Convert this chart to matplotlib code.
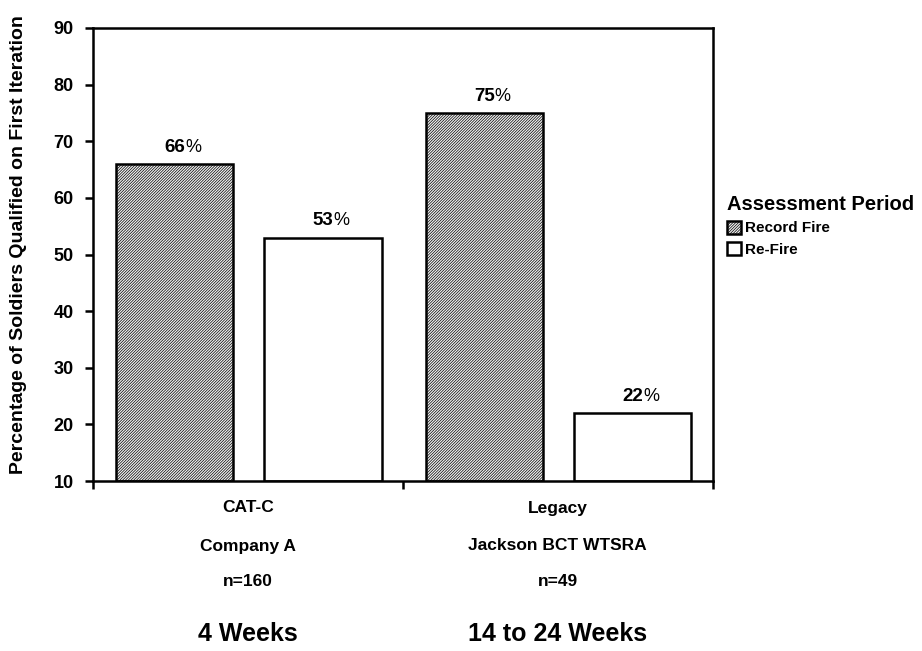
import matplotlib
matplotlib.use("Agg")
import matplotlib.pyplot as plt
import matplotlib.transforms as mtransforms
import numpy as np

plt.rcParams['font.family'] = ['Liberation Sans', 'DejaVu Sans']
plt.rcParams['hatch.linewidth'] = 0.5

groups = ['CAT-C', 'Legacy']
group_lines = [['CAT-C', 'Company A', 'n=160'], ['Legacy', 'Jackson BCT WTSRA', 'n=49']]
durations = ['4 Weeks', '14 to 24 Weeks']
series = ['Record Fire', 'Re-Fire']
record_fire = [66, 75]
re_fire = [53, 22]
yticks = [10, 20, 30, 40, 50, 60, 70, 80, 90]

fig = plt.figure(figsize=(9.22, 6.51), dpi=100)
ax = fig.add_axes([0.101, 0.261, 0.672, 0.696])

x = np.arange(len(groups))
w = 0.378
b1 = ax.bar(x - 0.237, np.array(record_fire) - 10, w, bottom=10, facecolor='#f0f0f0',
            edgecolor='black', hatch='////////////', linewidth=1.8, label=series[0])
b2 = ax.bar(x + 0.242, np.array(re_fire) - 10, w, bottom=10, facecolor='white',
            edgecolor='black', linewidth=1.8, label=series[1])

for bars, vals in [(b1, record_fire), (b2, re_fire)]:
    for r, v in zip(bars, vals):
        t = ax.annotate(str(v), (r.get_x() + r.get_width() / 2, v), xytext=(0, 6),
                        textcoords='offset points', ha='center', va='bottom',
                        fontsize=13.5, fontweight='bold')
        ax.annotate('%', xy=(1, 0), xycoords=t, ha='left', va='bottom', fontsize=13)

ax.set_xlim(-0.5, 1.5)
ax.set_ylim(10, 90)
ax.set_yticks(yticks)
ax.set_xticks([-0.5, 0.5, 1.5])
ax.set_xticklabels([])
ax.tick_params(axis='both', direction='out', width=1.8, length=6, labelsize=13, pad=8)
for lab in ax.get_yticklabels():
    lab.set_fontweight('bold')
for s in ax.spines.values():
    s.set_linewidth(1.8)
ax.set_ylabel('Percentage of Soldiers Qualified on First Iteration', fontsize=14,
              fontweight='bold', va='center')
ax.yaxis.set_label_coords(19 / 922, 1 - 245 / 651, transform=fig.transFigure)

# category labels under the axis
below = mtransforms.blended_transform_factory(ax.transData, fig.transFigure)
line_y = [508, 546, 581]
for gx, lines, dur in zip(x, group_lines, durations):
    for ly, txt in zip(line_y, lines):
        ax.text(gx, 1 - ly / 651, txt, ha='center', va='center',
                fontsize=12.5, fontweight='bold', transform=below)
    ax.text(gx, 1 - 634 / 651, dur, ha='center', va='center', fontsize=18,
            fontweight='bold', transform=below)

leg = fig.legend(handles=[b1, b2], labels=series, loc='upper left',
                 bbox_to_anchor=(727 / 922, 1 - 195 / 651), frameon=False,
                 title='Assessment Period', handlelength=0.9, handleheight=0.9,
                 handletextpad=0.3, labelspacing=0.45, borderaxespad=0, borderpad=0,
                 prop={'size': 11, 'weight': 'bold'},
                 title_fontproperties={'size': 14.5, 'weight': 'bold'})
leg._legend_box.align = 'left'

fig.savefig('out.png', dpi=100)
